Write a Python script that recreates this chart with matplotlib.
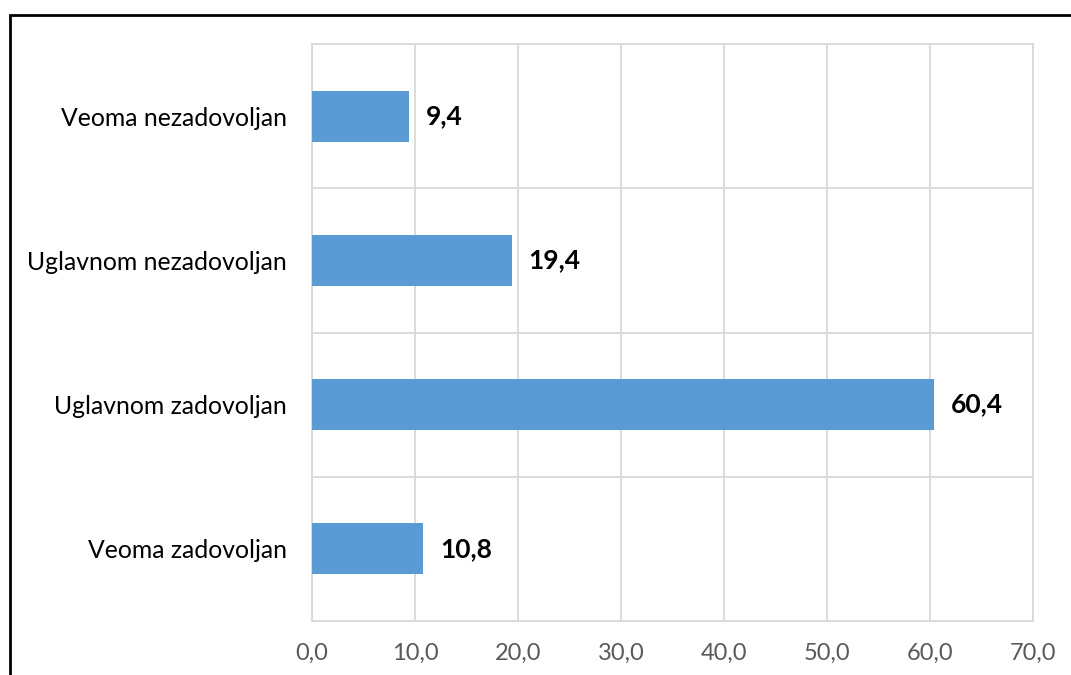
import matplotlib.pyplot as plt
from matplotlib.patches import Rectangle

plt.rcParams['font.family'] = ['Lato', 'DejaVu Sans']

categories = ['Veoma zadovoljan', 'Uglavnom zadovoljan', 'Uglavnom nezadovoljan', 'Veoma nezadovoljan']
values = [10.8, 60.4, 19.4, 9.4]
xticks = [0, 10, 20, 30, 40, 50, 60, 70]

fig = plt.figure(figsize=(10.71, 6.75), dpi=100)
ax = fig.add_axes([312/1071, 1-621/675, (1033-312)/1071, (621-44)/675])

pos = list(range(len(categories)))
ax.barh(pos, values, height=0.355, color='#5B9BD5', zorder=3)
for p, v in zip(pos, values):
    ax.annotate(f'{v:.1f}'.replace('.', ','), (v, p), xytext=(12, 0), textcoords='offset points',
                va='center', ha='left', fontsize=19, fontweight='bold', color='black')

ax.set_xlim(0, 70)
ax.set_ylim(-0.5, len(categories) - 0.5)
ax.set_xticks(xticks)
ax.set_xticklabels([f'{t:.1f}'.replace('.', ',') for t in xticks], fontsize=17, color='#595959')
ax.set_yticks(pos)
ax.set_yticklabels(categories, fontsize=17.8, color='black')
ax.set_yticks([-0.5, 0.5, 1.5, 2.5, 3.5], minor=True)
ax.tick_params(axis='both', which='both', length=0)
ax.tick_params(axis='x', pad=16)
ax.tick_params(axis='y', pad=18)
ax.grid(axis='x', color='#D9D9D9', linewidth=1.3, zorder=0)
ax.grid(axis='y', which='minor', color='#D9D9D9', linewidth=1.3, zorder=0)
for s in ax.spines.values():
    s.set_color('#D9D9D9')
    s.set_linewidth(1.3)

fig.patches.append(Rectangle((9.5/1071, -0.1), 1.2, 1 - 15/675 + 0.1, transform=fig.transFigure,
                             fill=False, edgecolor='black', linewidth=2))

fig.savefig('out.png', dpi=100)
